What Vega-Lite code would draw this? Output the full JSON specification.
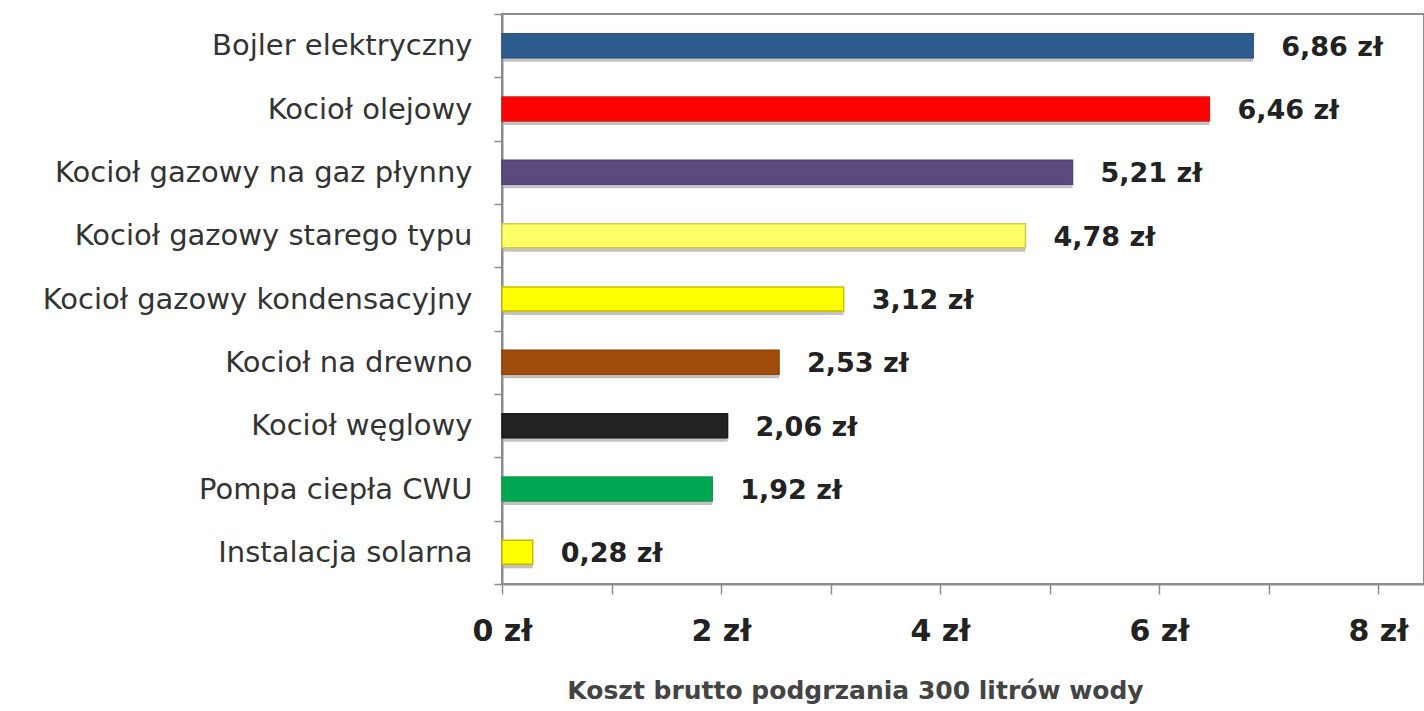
{
  "$schema": "https://vega.github.io/schema/vega-lite/v6.json",
  "width": 922,
  "height": 570,
  "autosize": {"type": "none"},
  "padding": {"left": 502, "top": 14, "right": 0, "bottom": 127},
  "background": "white",
  "config": {
    "view": {"stroke": "#8c8c8c", "strokeWidth": 2},
    "font": "DejaVu Sans"
  },
  "data": {
    "values": [
      {"kategoria": "Bojler elektryczny", "koszt": 6.86, "etykieta": "6,86 zł"},
      {"kategoria": "Kocioł olejowy", "koszt": 6.46, "etykieta": "6,46 zł"},
      {"kategoria": "Kocioł gazowy na gaz płynny", "koszt": 5.21, "etykieta": "5,21 zł"},
      {"kategoria": "Kocioł gazowy starego typu", "koszt": 4.78, "etykieta": "4,78 zł"},
      {"kategoria": "Kocioł gazowy kondensacyjny", "koszt": 3.12, "etykieta": "3,12 zł"},
      {"kategoria": "Kocioł na drewno", "koszt": 2.53, "etykieta": "2,53 zł"},
      {"kategoria": "Kocioł węglowy", "koszt": 2.06, "etykieta": "2,06 zł"},
      {"kategoria": "Pompa ciepła CWU", "koszt": 1.92, "etykieta": "1,92 zł"},
      {"kategoria": "Instalacja solarna", "koszt": 0.28, "etykieta": "0,28 zł"}
    ]
  },
  "encoding": {
    "y": {
      "field": "kategoria",
      "type": "nominal",
      "sort": null,
      "scale": {"paddingInner": 0, "paddingOuter": 0},
      "axis": {
        "title": null,
        "tickBand": "extent",
        "tickSize": 8,
        "tickColor": "#8c8c8c",
        "tickWidth": 1.5,
        "domainColor": "#8c8c8c",
        "domainWidth": 2,
        "labelPadding": 22,
        "labelFont": "DejaVu Sans",
        "labelFontSize": 29,
        "labelColor": "#333333",
        "labelLimit": 520
      }
    },
    "x": {
      "field": "koszt",
      "type": "quantitative",
      "scale": {"domain": [0, 8.42], "nice": false},
      "axis": {
        "values": [0, 1, 2, 3, 4, 5, 6, 7, 8],
        "labelExpr": "datum.value % 2 == 0 ? datum.value + ' zł' : ''",
        "grid": false,
        "tickSize": 10,
        "tickColor": "#8c8c8c",
        "tickWidth": 1.5,
        "domainColor": "#8c8c8c",
        "domainWidth": 2,
        "labelPadding": 22,
        "labelFont": "DejaVu Sans",
        "labelFontSize": 30,
        "labelFontWeight": "bold",
        "labelColor": "#222222",
        "labelFlush": false,
        "title": "Koszt brutto podgrzania 300 litrów wody",
        "titleFont": "DejaVu Sans",
        "titleFontSize": 25,
        "titleFontWeight": "bold",
        "titleColor": "#444444",
        "titleX": 353,
        "titleY": 106,
        "titleAlign": "center",
        "titleBaseline": "middle"
      }
    }
  },
  "layer": [
    {
      "mark": {"type": "bar", "size": 24, "color": "#9a9a9a", "opacity": 0.6, "yOffset": 4, "x2Offset": 4}
    },
    {
      "mark": {"type": "bar", "size": 24, "strokeWidth": 1.5},
      "encoding": {
        "color": {
          "field": "kategoria",
          "type": "nominal",
          "legend": null,
          "scale": {
            "domain": ["Bojler elektryczny", "Kocioł olejowy", "Kocioł gazowy na gaz płynny", "Kocioł gazowy starego typu", "Kocioł gazowy kondensacyjny", "Kocioł na drewno", "Kocioł węglowy", "Pompa ciepła CWU", "Instalacja solarna"],
            "range": ["#2f5c8f", "#ff0000", "#5c4a7e", "#ffff66", "#ffff00", "#a04c0a", "#222222", "#00a651", "#ffff00"]
          }
        },
        "stroke": {
          "field": "kategoria",
          "type": "nominal",
          "legend": null,
          "scale": {
            "domain": ["Bojler elektryczny", "Kocioł olejowy", "Kocioł gazowy na gaz płynny", "Kocioł gazowy starego typu", "Kocioł gazowy kondensacyjny", "Kocioł na drewno", "Kocioł węglowy", "Pompa ciepła CWU", "Instalacja solarna"],
            "range": ["#2a527f", "#d81818", "#524270", "#d6c84a", "#cdbd00", "#8e4308", "#1a1a1a", "#119a50", "#c8b800"]
          }
        }
      }
    },
    {
      "mark": {"type": "text", "align": "left", "baseline": "middle", "dx": 28, "dy": 2, "font": "DejaVu Sans", "fontSize": 27, "fontWeight": "bold", "color": "#222222"},
      "encoding": {"text": {"field": "etykieta", "type": "nominal"}}
    }
  ]
}
